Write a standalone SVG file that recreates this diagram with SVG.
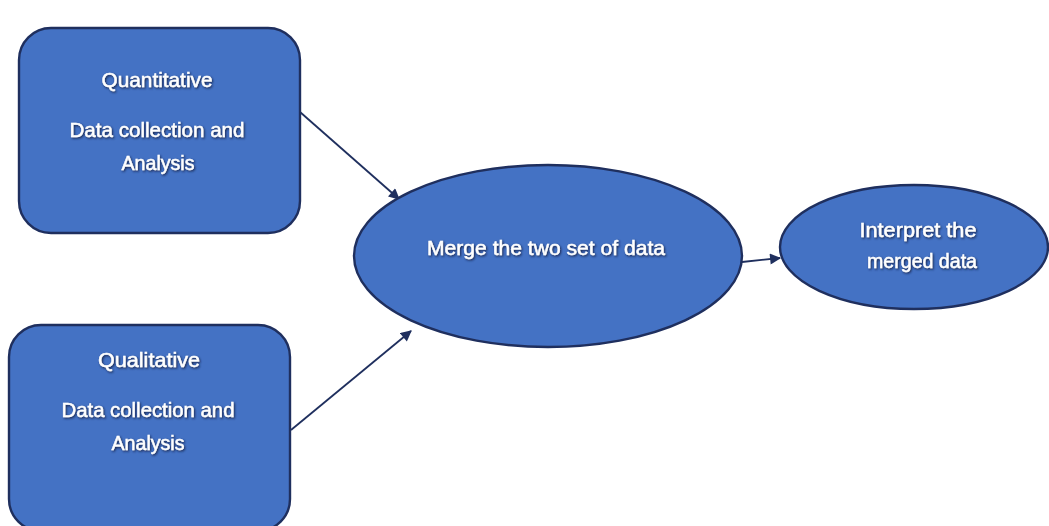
<svg xmlns="http://www.w3.org/2000/svg" width="1049" height="526" viewBox="0 0 1049 526">
  <style>
    .shape { fill: #4472C4; stroke: #1F2F5E; stroke-width: 2.4; }
    .label { fill: #FFFFFF; stroke: #FFFFFF; stroke-width: 0.45; font-family: "Liberation Sans", Arial, sans-serif; font-size: 21px; text-anchor: middle; filter: url(#txtShadow); }
    .conn { stroke: #1F2F5E; stroke-width: 1.8; fill: none; marker-end: url(#arrow); }
  </style>
  <defs>
    <marker id="arrow" viewBox="0 0 10 10" refX="9" refY="5" markerWidth="12" markerHeight="11" orient="auto" markerUnits="userSpaceOnUse">
      <path d="M0,0 L10,5 L0,10 z" fill="#1F2F5E"/>
    </marker>
    <filter id="txtShadow" x="-10%" y="-30%" width="120%" height="160%">
      <feDropShadow dx="1" dy="1.2" stdDeviation="1.1" flood-color="#14224A" flood-opacity="1"/>
    </filter>
  </defs>
  <rect width="1049" height="526" fill="#FFFFFF"/>

  <g id="connectors">
    <line class="conn" x1="300" y1="112" x2="399" y2="199"/>
    <line class="conn" x1="291" y1="430" x2="411" y2="331"/>
    <line class="conn" x1="742" y1="262" x2="780" y2="258"/>
  </g>

  <g id="quantitative">
    <rect class="shape" x="19" y="28" width="281" height="205" rx="32" ry="32"/>
    <text class="label" x="157" y="87" textLength="111" lengthAdjust="spacingAndGlyphs">Quantitative</text>
    <text class="label" x="157" y="137" textLength="175" lengthAdjust="spacingAndGlyphs">Data collection and</text>
    <text class="label" x="158" y="170" textLength="73" lengthAdjust="spacingAndGlyphs">Analysis</text>
  </g>

  <g id="qualitative">
    <rect class="shape" x="9" y="325" width="281" height="206" rx="32" ry="32"/>
    <text class="label" x="149" y="367" textLength="102" lengthAdjust="spacingAndGlyphs">Qualitative</text>
    <text class="label" x="148" y="417" textLength="173" lengthAdjust="spacingAndGlyphs">Data collection and</text>
    <text class="label" x="148" y="450" textLength="73" lengthAdjust="spacingAndGlyphs">Analysis</text>
  </g>

  <g id="merge">
    <ellipse class="shape" cx="548" cy="256" rx="194" ry="91"/>
    <text class="label" x="546" y="255" textLength="238" lengthAdjust="spacingAndGlyphs">Merge the two set of data</text>
  </g>

  <g id="interpret">
    <ellipse class="shape" cx="914" cy="247" rx="134" ry="62"/>
    <text class="label" x="918" y="237" textLength="117" lengthAdjust="spacingAndGlyphs">Interpret the</text>
    <text class="label" x="922" y="268" textLength="110" lengthAdjust="spacingAndGlyphs">merged data</text>
  </g>
</svg>
